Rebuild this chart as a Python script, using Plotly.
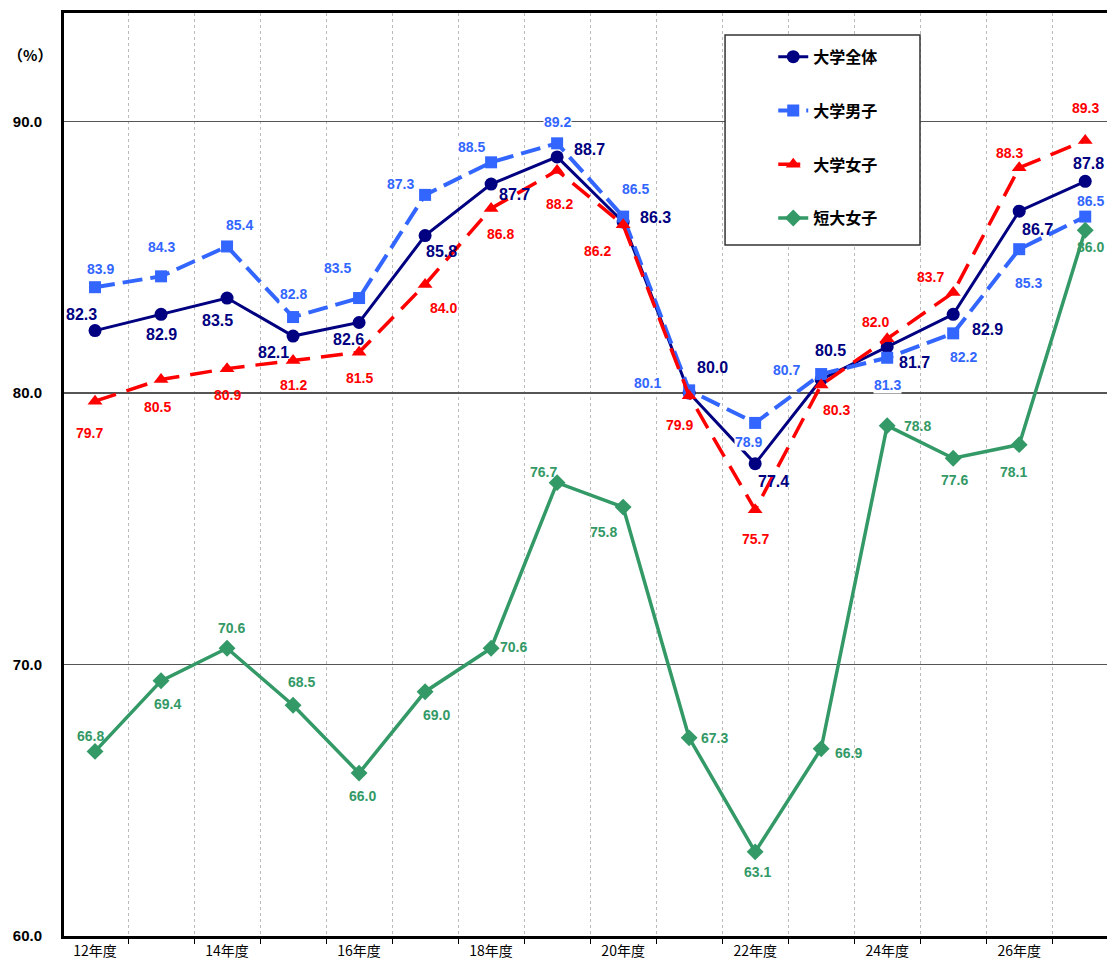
import plotly.graph_objects as go

years = ["12年度", "13年度", "14年度", "15年度", "16年度", "17年度", "18年度", "19年度",
         "20年度", "21年度", "22年度", "23年度", "24年度", "25年度", "26年度", "27年度"]

univ_all = [82.3, 82.9, 83.5, 82.1, 82.6, 85.8, 87.7, 88.7, 86.3, 80.0, 77.4, 80.5, 81.7, 82.9, 86.7, 87.8]
univ_male = [83.9, 84.3, 85.4, 82.8, 83.5, 87.3, 88.5, 89.2, 86.5, 80.1, 78.9, 80.7, 81.3, 82.2, 85.3, 86.5]
univ_female = [79.7, 80.5, 80.9, 81.2, 81.5, 84.0, 86.8, 88.2, 86.2, 79.9, 75.7, 80.3, 82.0, 83.7, 88.3, 89.3]
junior_female = [66.8, 69.4, 70.6, 68.5, 66.0, 69.0, 70.6, 76.7, 75.8, 67.3, 63.1, 66.9, 78.8, 77.6, 78.1, 86.0]

y_ticks = [60, 70, 80, 90]

# label offsets in pixels (dx right, dy down) -- styling only
off_all = [(-14, -16), (0, 20), (-10, 22), (-20, 16), (-11, 17), (16, 16), (23, 10), (32, -7),
           (32, -5), (23, -26), (18, 18), (9, -29), (27, 16), (34, 15), (18, 18), (3, -18)]
off_male = [(5, -18), (0, -29), (12, -21), (0, -23), (-22, -30), (-25, -11), (-20, -15), (0, -21),
            (12, -28), (-42, -7), (-7, 19), (-35, -4), (0, 27), (10, 24), (9, 34), (5, -16)]
off_female = [(-6, 32), (-4, 28), (0, 26), (0, 25), (0, 26), (18, 24), (9, 26), (2, 34),
              (-26, 26), (-10, 29), (0, 29), (15, 25), (-12, -17), (-23, -16), (-10, -15), (0, -33)]
off_junior = [(-5, -15), (6, 23), (4, -20), (8, -23), (3, 23), (11, 23), (22, -1), (-14, -11),
              (-20, 25), (25, 0), (2, 20), (27, 4), (30, 0), (1, 22), (-6, 27), (5, 17)]

xs = list(range(len(years)))

NAVY = "#000080"
BLUE = "#3366FF"
RED = "#FF0000"
GREEN = "#339966"
NUMFONT = "Liberation Sans, Arial, sans-serif"
JPFONT = "Noto Sans CJK JP, sans-serif"

series = [
    ("大学全体", univ_all, NAVY, "solid", 3, "circle", 13, off_all, 16, None),
    ("大学男子", univ_male, BLUE, "20px,8px", 4, "square", 12, off_male, 14, "white"),
    ("大学女子", univ_female, RED, "22px,11px", 3.5, "triangle-up", 13, off_female, 14, None),
    ("短大女子", junior_female, GREEN, "solid", 3.5, "diamond", 13, off_junior, 14, None),
]

fig = go.Figure()
annotations = []
for i, (name, vals, color, dash, lw, sym, ms, offs, fs, bg) in enumerate(series):
    fig.add_trace(go.Scatter(
        x=xs, y=vals, name=name, mode="lines+markers",
        line=dict(color=color, width=lw, dash=dash),
        marker=dict(symbol=sym, size=ms, color=color),
        legendgroup=f"g{i}", hoverinfo="skip",
    ))
    for x, v, (dx, dy) in zip(xs, vals, offs):
        a = dict(x=x, y=v, xref="x", yref="y", text=f"{v:.1f}", showarrow=False,
                 xshift=dx, yshift=-dy, borderpad=0,
                 font=dict(family=NUMFONT, size=fs, color=color, weight="bold"))
        if bg:
            a["bgcolor"] = bg
        annotations.append(a)

# unit label
annotations.append(dict(x=-0.033, y=0.9545, xref="paper", yref="paper", text="（%）",
                        xanchor="center", yanchor="middle", showarrow=False,
                        font=dict(family=JPFONT, size=15, color="black", weight="bold")))

fig.update_layout(
    width=1107, height=962,
    margin=dict(l=64, r=0, t=13, b=26, autoexpand=False),
    paper_bgcolor="white", plot_bgcolor="white",
    annotations=annotations,
    showlegend=True,
    legend=dict(x=0.68, y=0.971, xanchor="left", yanchor="top",
                bgcolor="rgba(0,0,0,0)", borderwidth=0,
                tracegroupgap=30, traceorder="grouped",
                font=dict(family=JPFONT, size=16, color="black", weight="bold")),
    shapes=[dict(type="rect", xref="paper", yref="paper",
                 x0=0.6338, x1=0.8207, y0=0.7486, y1=0.9762,
                 line=dict(color="#333333", width=1.5), fillcolor="white", layer="above")],
    xaxis=dict(
        range=[-0.47, 15.33], tickmode="array",
        tickvals=xs[::2], ticktext=years[::2], ticks="",
        tickfont=dict(family=JPFONT, size=14, color="black"),
        showgrid=False, zeroline=False, automargin=False,
        showline=True, linecolor="black", linewidth=3, mirror=True,
        minor=dict(tickmode="array", tickvals=[x + 0.5 for x in xs[:-1]],
                   ticks="outside", ticklen=5, tickcolor="black", tickwidth=1,
                   showgrid=True, gridcolor="#BBBBBB", gridwidth=1, griddash="dot"),
    ),
    yaxis=dict(
        range=[60, 94], tickmode="array", tickvals=y_ticks, tickformat=".1f",
        tickfont=dict(family=NUMFONT, size=15, color="black", weight="bold"),
        showgrid=True, gridcolor="#555555", gridwidth=1.5, zeroline=False,
        showline=True, linecolor="black", linewidth=3, ticks="",
        ticklabelstandoff=16, automargin=False,
    ),
)

# remove the browser's default page margin so the figure fills the window exactly
fig.write_html("out.html",
               config={"displayModeBar": False, "staticPlot": True},
               post_script="document.body.style.margin='0';document.body.style.overflow='hidden';")
